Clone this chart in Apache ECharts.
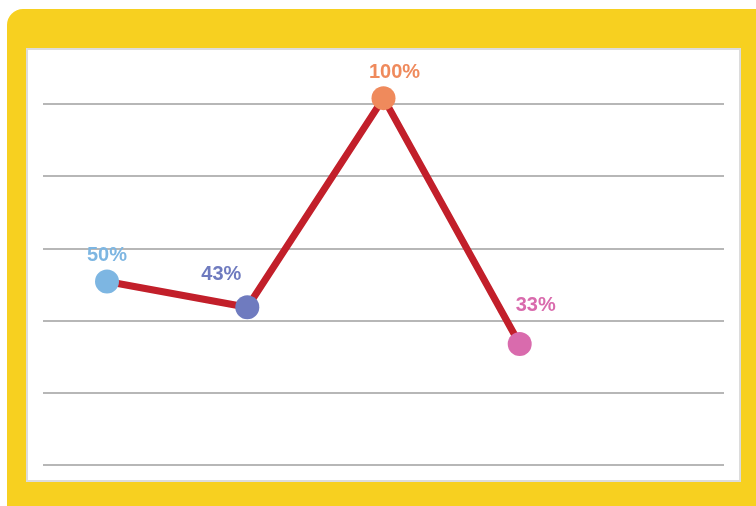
<!DOCTYPE html>
<html>
<head>
<meta charset="utf-8">
<script src="https://cdn.jsdelivr.net/npm/echarts@6/dist/echarts.min.js"></script>
<style>
  html, body { margin: 0; padding: 0; background: #fff; }
  #chart { width: 756px; height: 506px; }
</style>
</head>
<body>
<div id="chart"></div>
<script>
// data
const categories = ["A", "B", "C", "D"];
const values = [50, 43, 100, 33];
const pointColors = ["#7db6e2", "#6f7bbf", "#ef8a5c", "#d96bad"];
const labelOffsets = [[0, 1], [-26, -6], [11, 1], [16, -11]];

const myChart = echarts.init(document.getElementById("chart"));

const seriesData = values.map((v, i) => ({
  value: [i + 0.5, v],
  name: categories[i],
  itemStyle: { color: pointColors[i] },
  label: { color: pointColors[i], offset: labelOffsets[i] },
}));
seriesData[0].value[0] = 0.47;

const option = {
  animation: false,
  graphic: [
    {
      type: "rect",
      z: -10,
      shape: { x: 7, y: 9, width: 770, height: 520, r: 16 },
      style: { fill: "#f7d020" },
    },
    {
      type: "rect",
      z: -9,
      shape: { x: 27, y: 49, width: 713, height: 432 },
      style: { fill: "#ffffff", stroke: "#dcdcdc", lineWidth: 2 },
    },
  ],
  grid: { left: 43, right: 32, top: 104, bottom: 41 },
  xAxis: {
    type: "value",
    min: 0,
    max: 5,
    show: false,
  },
  yAxis: {
    type: "value",
    min: 0,
    max: 98.4,
    interval: 19.68,
    axisLine: { show: false },
    axisTick: { show: false },
    axisLabel: { show: false },
    splitLine: {
      show: true,
      lineStyle: { color: "#b7b7b7", width: 2 },
    },
  },
  series: [
    {
      type: "line",
      clip: false,
      data: seriesData,
      symbol: "circle",
      symbolSize: 24,
      lineStyle: { color: "#c21f2a", width: 7 },
      label: {
        show: true,
        position: "top",
        distance: 5,
        fontSize: 20,
        fontWeight: "bold",
        fontFamily: "Liberation Sans",
        formatter: (p) => p.value[1] + "%",
      },
    },
  ],
};

myChart.setOption(option);
</script>
</body>
</html>
